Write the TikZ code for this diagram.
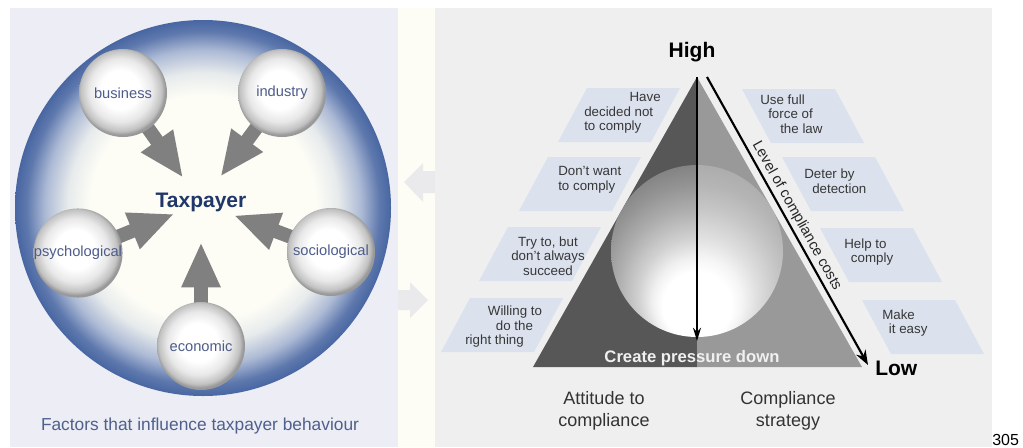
\documentclass[tikz,border=0pt]{standalone}
\usepackage{fontspec}
\setmainfont{Liberation Sans}
\usetikzlibrary{arrows.meta,calc}

\definecolor{panelleft}{RGB}{236,237,245}
\definecolor{panelright}{RGB}{239,239,239}
\definecolor{strip}{RGB}{253,253,246}
\definecolor{stripgray}{RGB}{234,234,237}
\definecolor{boxblue}{RGB}{219,226,238}
\definecolor{rimblue}{RGB}{72,102,162}
\definecolor{taxnavy}{RGB}{32,55,105}
\definecolor{factorblue}{RGB}{78,92,140}
\definecolor{captionblue}{RGB}{80,96,140}
\definecolor{pullgray}{RGB}{128,128,128}
\definecolor{boxtext}{RGB}{55,55,55}

\pgfdeclareradialshading{rim}{\pgfpoint{0bp}{0bp}}{color(0bp)=(strip); color(15bp)=(strip);
  color(18bp)=(rimblue!12!strip); color(21bp)=(rimblue!45!white);
  color(23.5bp)=(rimblue!88!white); color(25bp)=(rimblue); color(50bp)=(rimblue)}
\pgfdeclareradialshading{knob}{\pgfpoint{-2bp}{2.5bp}}{color(0bp)=(white); color(11bp)=(white);
  color(18bp)=(black!9); color(23bp)=(black!24); color(25bp)=(black!40); color(50bp)=(black!40)}
\pgfdeclareradialshading{glowL}{\pgfpoint{0bp}{-20bp}}{color(0bp)=(white); color(10bp)=(white);
  color(13bp)=(black!6); color(17bp)=(black!18); color(23bp)=(black!32);
  color(28bp)=(black!42); color(33bp)=(black!50); color(50bp)=(black!50)}
\pgfdeclareradialshading{glowR}{\pgfpoint{0bp}{-20bp}}{color(0bp)=(white); color(10bp)=(white);
  color(13bp)=(black!4); color(17bp)=(black!12); color(23bp)=(black!22);
  color(28bp)=(black!29); color(33bp)=(black!33); color(50bp)=(black!33)}

\newcommand\fsz[2]{\fontsize{#1}{#2}\selectfont}

\begin{document}
\begin{tikzpicture}[x=0.75pt, y=-0.75pt,
    factor/.style={circle, minimum size=66pt, inner sep=0pt, shade, shading=knob,
      text=factorblue, font=\fsz{11}{13}},
    pull/.style={pullgray, line width=10.5pt, -{Triangle[length=34pt,width=27pt]}},
    attbox/.style={fill=boxblue},
    boxtxt/.style={text=boxtext, inner sep=0pt, anchor=west, align=left, font=\fsz{10}{10.9}},
    pressure/.style={black, line width=1.3pt, -{Stealth[length=10pt,width=6pt]}},
    costs/.style={black, line width=1.6pt, -{Stealth[length=11pt,width=8pt]}},
    bigword/.style={font=\bfseries\fsz{15.75}{18}, inner sep=0pt}]
    \useasboundingbox (0,0) rectangle (1023,447);
    \fill[white] (0,0) rectangle (1023,447);

    % factors
    \fill[panelleft] (10,8) rectangle (398,447);
    \fill[strip] (398,8) rectangle (435,447);
    \fill[stripgray] (435,171) -- (423,171) -- (423,163) -- (404,182) -- (423,202)
        -- (423,193) -- (435,193) -- cycle;
    \fill[stripgray] (398,290) -- (410,290) -- (410,282) -- (428,300) -- (410,318)
        -- (410,310) -- (398,310) -- cycle;
    \shade[shading=rim] (203,208) circle [radius=141pt];
    \coordinate (hub) at (201,203);
    \coordinate (bus) at (123,93);
    \coordinate (ind) at (282,93);
    \coordinate (psy) at (78,253);
    \coordinate (soc) at (331,252);
    \coordinate (eco) at (201,346);
    \foreach \f in {bus,ind,psy,soc,eco}
        \draw[pull] (\f) -- ($(\f)!78pt!(hub)$);
    \node[factor] (busball) at (bus) {business};
    \node[factor] (indball) at (ind) {industry};
    \node[factor] (psyball) at (psy) {psychological};
    \node[factor] (socball) at (soc) {sociological};
    \node[factor] (ecoball) at (eco) {economic};
    \node[bigword, text=taxnavy, anchor=base] (tax) at (201,207) {Taxpayer};
    \node[anchor=base, text=captionblue, font=\fsz{13}{15}] (caption) at (200,430)
        {Factors that influence taxpayer behaviour};

    % compliance
    \fill[panelright] (435,8) rectangle (992,447);
    \foreach \x/\y in {587/88,548/157,508/227,470/298}
        \fill[attbox] (\x,\y) -- ++(93,0) -- ++(-29,54) -- ++(-93,0) -- cycle;
    \foreach \x/\y in {742/89,782/157,820/228,862/300}
        \fill[attbox] (\x,\y) -- ++(93,0) -- ++(29,54) -- ++(-93,0) -- cycle;
    \coordinate (apex) at (697,77);
    \coordinate (bl) at (533,367);
    \coordinate (bm) at (697,367);
    \coordinate (br) at (862,367);
    \coordinate (glow) at (697,251);
    \fill[black!66] (bl) -- (apex) -- (bm) -- cycle;
    \fill[black!40] (apex) -- (br) -- (bm) -- cycle;
    \begin{scope}
        \clip (bl) -- (apex) -- (bm) -- cycle;
        \shade[shading=glowL] (glow) circle [radius=64.5pt];
    \end{scope}
    \begin{scope}
        \clip (apex) -- (br) -- (bm) -- cycle;
        \shade[shading=glowR] (glow) circle [radius=64.5pt];
    \end{scope}
    \coordinate (pdown) at (697,341);
    \draw[pressure] (apex) -- (pdown);
    \coordinate (ctop) at (707,77);
    \coordinate (cend) at (868,365);
    \draw[costs] (ctop) -- (cend) node[midway, sloped, above=1pt, inner sep=1pt,
        font=\fsz{11}{13}, text=black!85] {Level of compliance costs};
    \node[bigword, anchor=base] (high) at (692,57) {High};
    \node[bigword, anchor=base west] (low) at (875,375) {Low};
    \node[anchor=base, inner sep=0pt, text=white!94!black, font=\bfseries\fsz{12.5}{14}]
        (push) at (692,362) {Create pressure down};

    \node[boxtxt] (att1) at (584,113) {\hspace*{34pt}Have\\decided not\\to comply};
    \node[boxtxt] (att2) at (558,180) {Don't want\\to comply};
    \node[boxtxt, anchor=center, align=center] (att3) at (548,256)
        {Try to, but\\don't always\\succeed};
    \node[boxtxt] (att4) at (465,327) {\hspace*{17pt}Willing to\\\hspace*{23pt}do the\\right thing};
    \node[boxtxt] (str1) at (760,114) {Use full\\\hspace*{6pt}force of\\\hspace*{15pt}the law};
    \node[boxtxt] (str2) at (804,181) {Deter by\\\hspace*{6pt}detection};
    \node[boxtxt] (str3) at (844,252) {Help to\\\hspace*{5pt}comply};
    \node[boxtxt] (str4) at (882,323) {Make\\\hspace*{5pt}it easy};

    \node[align=center, text=black!80, font=\fsz{13.5}{16.5}] (attitude) at (604,411)
        {Attitude to\\compliance};
    \node[align=center, text=black!80, font=\fsz{13.5}{16.5}] (strategy) at (788,411)
        {Compliance\\strategy};
    \node[anchor=base west, inner sep=0pt, font=\fsz{12}{14}] (page) at (992,445) {305};
\end{tikzpicture}
\end{document}
